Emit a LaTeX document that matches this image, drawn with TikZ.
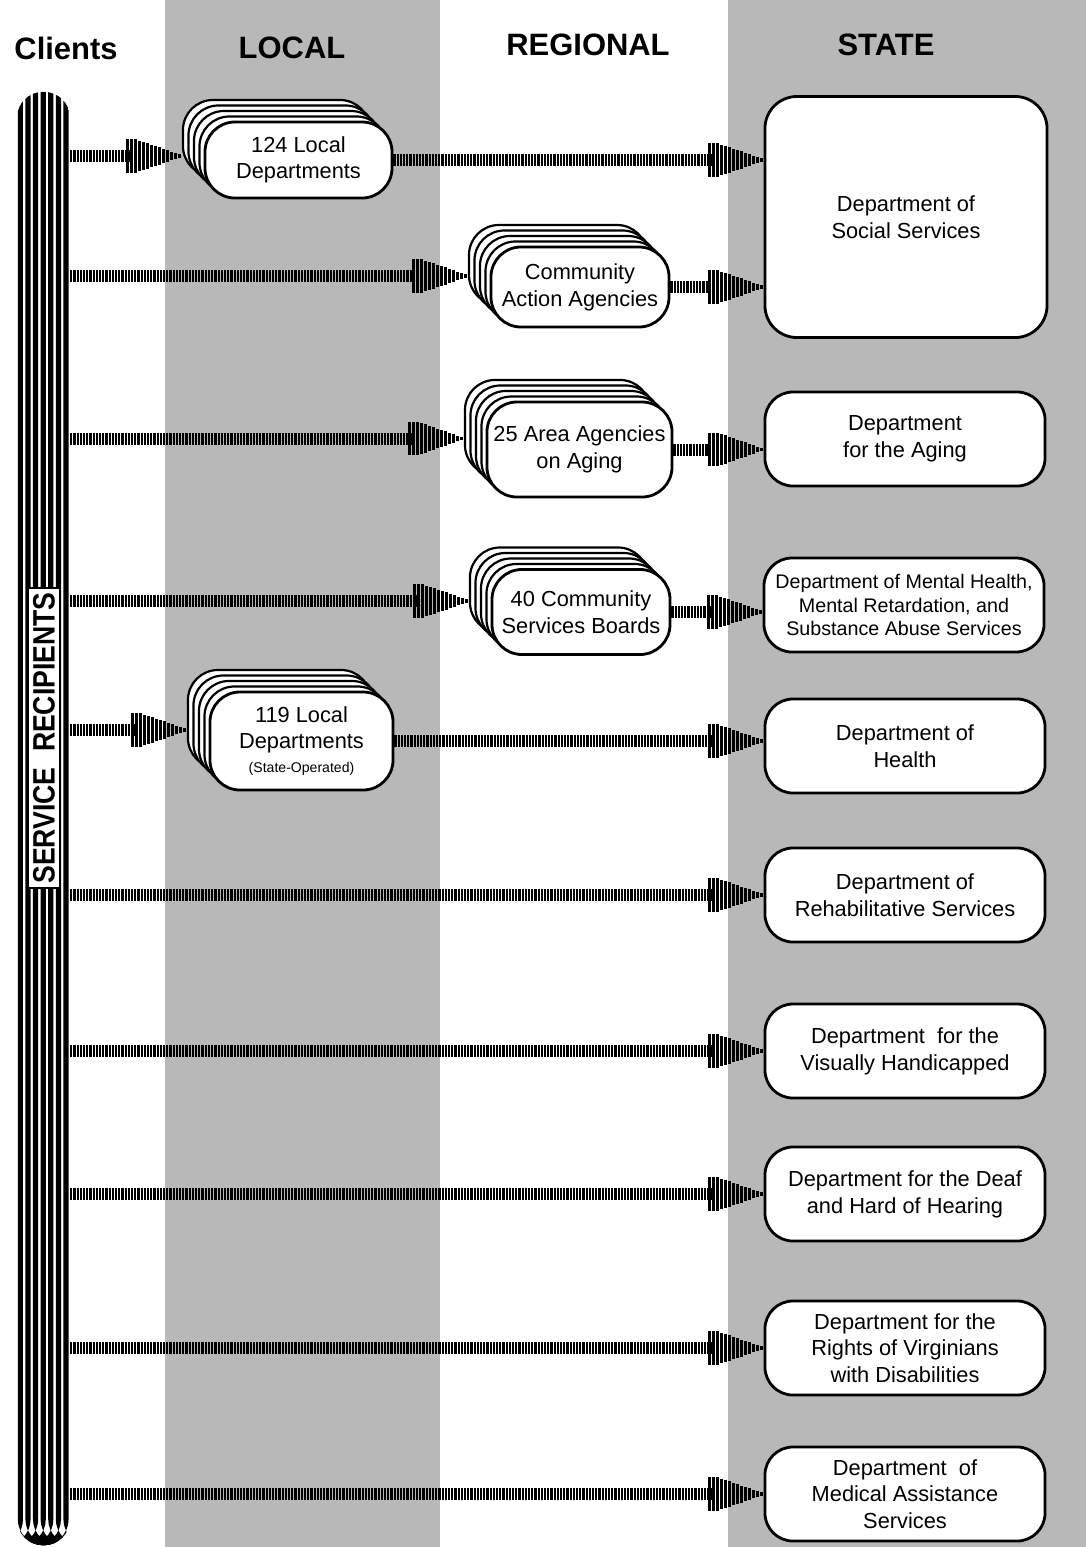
\documentclass[tikz,border=0pt]{standalone}
\usepackage{fontspec}
\setmainfont{Liberation Sans}
\newfontfamily\vanarrow[FakeStretch=0.86]{Liberation Sans}
\usetikzlibrary{decorations.markings}
\begin{document}
\begin{tikzpicture}[x=0.025cm, y=-0.025cm]
% Service delivery chart on a 1086 x 1547 grid
\providecommand{\vaStipple}{black!28}
\providecommand{\vaBoxLine}{0.07cm}
\providecommand{\vaLayer}{0.1375cm}
\tikzset{
  heading/.style={font=\bfseries\fontsize{22}{26}\selectfont},
  dept/.style={draw, fill=white, line width=\vaBoxLine, rounded corners=0.7cm, align=center,
    minimum width=7cm, minimum height=2.35cm, inner sep=2pt, font=\fontsize{15.5}{19}\selectfont},
  layer/.style={preaction={draw, fill=white, line width=0.055cm,
    transform canvas={xshift=-#1*\vaLayer, yshift=#1*\vaLayer}}},
  agency/.style={dept, rounded corners=0.75cm, layer=4, layer=3, layer=2, layer=1},
  recip/.style={minimum width=1.325cm, minimum height=36.325cm, inner sep=0pt, rounded corners=0.65cm,
    path picture={\foreach \k in {0,...,6}
      \fill ([xshift={0.02cm+\k*0.19cm}]path picture bounding box.south west) rectangle ++(0.13cm,37cm);}},
  recip label/.style={draw, fill=white, line width=0.04cm, rotate=90, inner sep=0pt,
    minimum width=7.5cm, minimum height=0.8cm, font=\vanarrow\bfseries\fontsize{22}{24}\selectfont},
  feed/.style={line width=0.3cm, dash pattern=on 0.055cm off 0.025cm, shorten >=1.3cm,
    postaction={decorate}, decoration={markings, mark=at position 0.9999 with {
      \foreach \i in {0,...,13} {
        \pgfmathsetmacro\h{min(0.42,0.04+0.38*(13-\i)/11)}
        \draw[solid, line width=0.055cm, shorten >=0pt] (\i*0.1cm-1.35cm,-\h cm) -- (\i*0.1cm-1.35cm,\h cm);
      }}}}
}
\useasboundingbox (0,0) rectangle (1086,1547);
% Shaded columns
\fill[\vaStipple] (165,0) rectangle (440,1547);
\fill[\vaStipple] (728,0) rectangle (1086,1547);
% Column headings
\node[heading] (clients) at (66,48) {Clients};
\node[heading] (local) at (292,48) {LOCAL};
\node[heading] (regional) at (588,45) {REGIONAL};
\node[heading] (state) at (886,45) {STATE};
% Clients bar
\node[recip] (recip) at (43.5,818.5) {};
\node[recip label] (recip text) at (44,738) {SERVICE\hspace{0.5em}RECIPIENTS};
% Local and regional agencies
\node[agency, minimum width=4.675cm, minimum height=1.9cm] (l124) at (298.5,160) {124 Local\\Departments};
\node[agency, minimum width=4.45cm, minimum height=2cm] (caa) at (580,287) {Community\\Action Agencies};
\node[agency, minimum width=4.625cm, minimum height=2.375cm] (area) at (579.5,449.5) {25 Area Agencies\\on Aging};
\node[agency, minimum width=4.45cm, minimum height=2.125cm] (csb) at (581,612) {40 Community\\Services Boards};
\node[agency, minimum width=4.575cm, minimum height=2.45cm] (l119) at (301.5,741)
  {119 Local\\Departments\\[-2pt]{\fontsize{10}{12}\selectfont (State-Operated)}};
% State departments
\node[dept, minimum width=7.05cm, minimum height=6.025cm, rounded corners=0.8cm] (social) at (906,217) {Department of\\Social Services};
\node[dept] (aging) at (905,439) {Department\\for the Aging};
\node[dept, font=\fontsize{14}{16.5}\selectfont] (mental) at (904,605)
  {Department of Mental Health,\\Mental Retardation, and\\Substance Abuse Services};
\node[dept] (health) at (905,746) {Department of\\Health};
\node[dept] (rehab) at (905,895) {Department of\\Rehabilitative Services};
\node[dept] (visual) at (905,1051) {Department\ \ for the\\Visually Handicapped};
\node[dept] (deaf) at (905,1194) {Department for the Deaf\\and Hard of Hearing};
\node[dept] (rights) at (905,1348) {Department for the\\Rights of Virginians\\with Disabilities};
\node[dept] (medical) at (905,1494) {Department\ \ of\\Medical Assistance\\Services};
% Entry points of the stacked agencies
\coordinate (l124in) at ([xshift=-0.55cm, yshift=0.1cm]l124.west);
\coordinate (caain) at ([xshift=-0.55cm, yshift=0.275cm]caa.west);
\coordinate (areain) at ([xshift=-0.55cm, yshift=0.275cm]area.west);
\coordinate (csbin) at ([xshift=-0.55cm, yshift=0.275cm]csb.west);
\coordinate (l119in) at ([xshift=-0.55cm, yshift=0.275cm]l119.west);
% Clients to agencies
\draw[feed] (recip.east |- l124in) -- (l124in);
\draw[feed] (recip.east |- caain) -- (caain);
\draw[feed] (recip.east |- areain) -- (areain);
\draw[feed] (recip.east |- csbin) -- (csbin);
\draw[feed] (recip.east |- l119in) -- (l119in);
% Agencies to state
\draw[feed] (l124.east) -- (l124.east -| social.west);
\draw[feed] (caa.east) -- (caa.east -| social.west);
\draw[feed] (area.east) -- (area.east -| aging.west);
\draw[feed] (csb.east) -- (csb.east -| mental.west);
\draw[feed] (l119.east) -- (l119.east -| health.west);
% Clients straight to state
\draw[feed] (recip.east |- rehab.west) -- (rehab.west);
\draw[feed] (recip.east |- visual.west) -- (visual.west);
\draw[feed] (recip.east |- deaf.west) -- (deaf.west);
\draw[feed] (recip.east |- rights.west) -- (rights.west);
\draw[feed] (recip.east |- medical.west) -- (medical.west);
\end{tikzpicture}
\end{document}
